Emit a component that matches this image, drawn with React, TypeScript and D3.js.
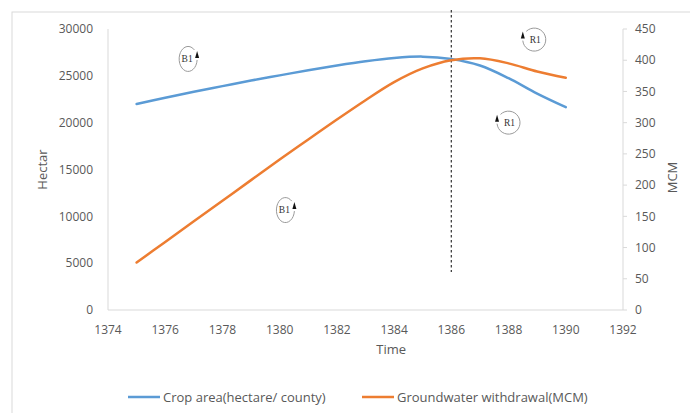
import React from "react";
import * as d3 from "d3";

const years = [1375, 1376, 1377, 1378, 1379, 1380, 1381, 1382, 1383, 1384, 1385, 1386, 1387, 1388, 1389, 1390];
const cropArea = [22000, 22650, 23300, 23900, 24500, 25050, 25600, 26100, 26550, 26900, 27050, 26800, 26100, 24750, 23100, 21650];
const groundwater = [76, 109, 142, 175, 208, 241, 273, 305, 336, 365, 387, 400, 403, 395, 382, 372];
const xTicks = [1374, 1376, 1378, 1380, 1382, 1384, 1386, 1388, 1390, 1392];
const leftTicks = [0, 5000, 10000, 15000, 20000, 25000, 30000];
const rightTicks = [0, 50, 100, 150, 200, 250, 300, 350, 400, 450];
const dividerYear = 1386;
const loops = [
  { label: "B1", year: 1376.8, mcm: 402, side: "right" },
  { label: "B1", year: 1380.2, mcm: 160, side: "right" },
  { label: "R1", year: 1388.9, mcm: 433, side: "left" },
  { label: "R1", year: 1388.0, mcm: 300, side: "left" },
];

const W = 690, H = 413;
const L = 108, R = 623, T = 29, B = 310;
const FONT = "'Open Sans', 'Liberation Sans', sans-serif";
const AXIS = "#d9d9d9";
const TXT = "#595959";

export default function App() {
  const x = d3.scaleLinear().domain([1374, 1392]).range([L, R]);
  const yL = d3.scaleLinear().domain([0, 30000]).range([B, T]);
  const yR = d3.scaleLinear().domain([0, 450]).range([B, T]);
  const curve = d3.curveCatmullRom.alpha(0.5);
  const lineL = d3.line<number>().x((_, i) => x(years[i])).y((d) => yL(d)).curve(curve);
  const lineR = d3.line<number>().x((_, i) => x(years[i])).y((d) => yR(d)).curve(curve);

  return (
    <svg width={W} height={H} style={{ position: "absolute", left: 0, top: 0, background: "#fff" }} fontFamily={FONT}>
      <rect x={12} y={12} width={W} height={H} fill="#fff" stroke={AXIS} strokeWidth={1} />
      {/* axes */}
      <line x1={L} x2={L} y1={T} y2={B} stroke={AXIS} />
      <line x1={L} x2={R} y1={B} y2={B} stroke={AXIS} />
      <line x1={R} x2={R} y1={T} y2={B} stroke={AXIS} />
      {rightTicks.map((t) => (
        <line key={"rt" + t} x1={R} x2={R + 4} y1={yR(t)} y2={yR(t)} stroke={AXIS} />
      ))}
      {leftTicks.map((t) => (
        <text key={"lt" + t} x={L - 15} y={yL(t)} dy="0.35em" textAnchor="end" fontSize={12} fill={TXT}>{t}</text>
      ))}
      {rightTicks.map((t) => (
        <text key={"rl" + t} x={R + 12} y={yR(t)} dy="0.35em" textAnchor="start" fontSize={12} fill={TXT}>{t}</text>
      ))}
      {xTicks.map((t) => (
        <text key={"xt" + t} x={x(t)} y={B + 20} dy="0.35em" textAnchor="middle" fontSize={12} fill={TXT}>{t}</text>
      ))}
      <text x={x(1383.9)} y={354} textAnchor="middle" fontSize={13} fill={TXT}>Time</text>
      <text transform={`translate(47,${(T + B) / 2}) rotate(-90)`} textAnchor="middle" fontSize={13} fill={TXT}>Hectar</text>
      <text transform={`translate(677,${(T + B) / 2 + 8}) rotate(-90)`} textAnchor="middle" fontSize={13} fill={TXT}>MCM</text>
      {/* divider */}
      <line x1={x(dividerYear)} x2={x(dividerYear)} y1={10} y2={272} stroke="#404040" strokeWidth={1.3} strokeDasharray="2.5,2.5" />
      {/* series */}
      <path d={lineL(cropArea) || ""} fill="none" stroke="#5b9bd5" strokeWidth={2.5} strokeLinecap="round" />
      <path d={lineR(groundwater) || ""} fill="none" stroke="#ed7d31" strokeWidth={2.5} strokeLinecap="round" />
      {/* loop annotations */}
      {loops.map((lp, i) => {
        const cx = x(lp.year), cy = yR(lp.mcm);
        const isB = lp.label === "B1";
        const rx = isB ? 9 : 11.5, ry = isB ? 12.5 : 11.5;
        const ax = lp.side === "right" ? cx + rx : cx - rx;
        const arc = lp.side === "right"
          ? `M ${cx + rx * 0.7} ${cy - ry * 0.72} A ${rx} ${ry} 0 1 0 ${cx + rx} ${cy + 1}`
          : `M ${cx - rx * 0.7} ${cy - ry * 0.72} A ${rx} ${ry} 0 1 1 ${cx - rx} ${cy + 1}`;
        return (
          <g key={"loop" + i}>
            <path d={arc} fill="none" stroke="#9a9a9a" strokeWidth={1} />
            <path d={`M ${ax - 2} ${cy - 1} L ${ax} ${cy - 8} L ${ax + 2} ${cy - 1} Z`} fill="#111" />
            <text x={cx + (lp.side === "left" ? 1 : -1)} y={cy} dy="0.35em" textAnchor="middle" fontSize={9.5} fill="#333" fontFamily="'Liberation Serif', serif">{lp.label}</text>
          </g>
        );
      })}
      {/* legend */}
      <line x1={128} x2={160} y1={397} y2={397} stroke="#5b9bd5" strokeWidth={2.5} />
      <text x={163} y={397} dy="0.35em" fontSize={13} fill={TXT}>Crop area(hectare/ county)</text>
      <line x1={362} x2={394} y1={397} y2={397} stroke="#ed7d31" strokeWidth={2.5} />
      <text x={397} y={397} dy="0.35em" fontSize={13} fill={TXT}>Groundwater withdrawal(MCM)</text>
    </svg>
  );
}
